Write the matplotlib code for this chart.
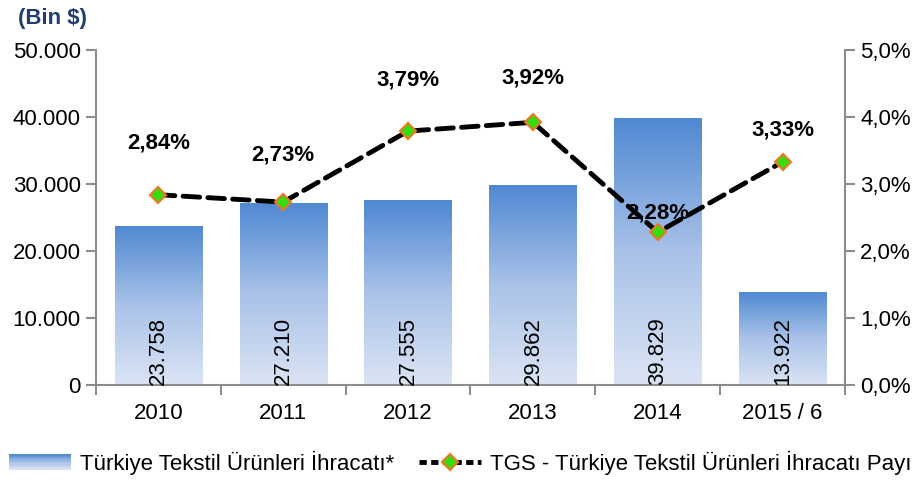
import matplotlib
matplotlib.use("Agg")
import matplotlib.pyplot as plt
import numpy as np
from matplotlib.patches import Rectangle
from matplotlib.legend_handler import HandlerBase
from matplotlib.lines import Line2D
from matplotlib.colors import LinearSegmentedColormap

categories = ["2010", "2011", "2012", "2013", "2014", "2015 / 6"]
exports = [23758, 27210, 27555, 29862, 39829, 13922]
export_labels = ["23.758", "27.210", "27.555", "29.862", "39.829", "13.922"]
share = [2.84, 2.73, 3.79, 3.92, 2.28, 3.33]
share_labels = ["2,84%", "2,73%", "3,79%", "3,92%", "2,28%", "3,33%"]
left_ticks = [0, 10000, 20000, 30000, 40000, 50000]
left_ticklabels = ["0", "10.000", "20.000", "30.000", "40.000", "50.000"]
right_ticks = [0, 1, 2, 3, 4, 5]
right_ticklabels = ["0,0%", "1,0%", "2,0%", "3,0%", "4,0%", "5,0%"]
legend_labels = ["Türkiye Tekstil Ürünleri İhracatı*", "TGS - Türkiye Tekstil Ürünleri İhracatı Payı"]

plt.rcParams['font.family'] = ['Liberation Sans', 'DejaVu Sans']

cmap = LinearSegmentedColormap.from_list("g", ["#dbe4f4", "#a9c2e8", "#4f88d2"])
gray = "#8c8c8c"

fig = plt.figure(figsize=(9.2, 4.82), dpi=100)
ax = fig.add_axes([0.1043, 0.2012, 0.8142, 0.6951])
ax2 = ax.twinx()

x = np.arange(len(categories))
width = 0.70
bars = ax.bar(x, exports, width=width, color="none", edgecolor="none")
grad = np.linspace(0, 1, 256).reshape(-1, 1)
for b in bars:
    x0, w, h = b.get_x(), b.get_width(), b.get_height()
    im = ax.imshow(grad, extent=[x0, x0 + w, 0, h], origin="lower", cmap=cmap,
                   aspect="auto", zorder=1)
    im.set_clip_path(b)

for xi, lab in zip(x, export_labels):
    ax.text(xi, 5050, lab, rotation=90, ha="center", va="center", fontsize=16, color="black", zorder=3)

ax.set_xlim(-0.5, len(categories) - 0.5)
ax.set_ylim(0, 50000)
ax.set_yticks(left_ticks)
ax.set_yticklabels(left_ticklabels, fontsize=16)
ax.set_xticks(x)
ax.set_xticklabels(categories, fontsize=16)
ax.set_xticks(np.arange(len(categories) + 1) - 0.5, minor=True)
ax.tick_params(axis="x", which="major", length=0, pad=13)
ax.tick_params(axis="x", which="minor", length=7, color=gray, width=1.5, direction="out")
ax.tick_params(axis="y", length=7, color=gray, width=1.5, direction="out", pad=4)

ax2.set_ylim(0, 5)
ax2.set_yticks(right_ticks)
ax2.set_yticklabels(right_ticklabels, fontsize=16)
ax2.tick_params(axis="y", length=7, color=gray, width=1.5, direction="out", pad=4)

for a in (ax, ax2):
    a.spines["top"].set_visible(False)
    for s in ("left", "right", "bottom"):
        a.spines[s].set_color(gray)
        a.spines[s].set_linewidth(1.5)
ax.spines["right"].set_visible(False)
ax2.spines["left"].set_visible(False)
ax2.spines["bottom"].set_visible(False)

ax2.plot(x, share, color="black", linewidth=3.5, linestyle=(0, (3.4, 1.7)),
         dash_capstyle="round", marker="D", markersize=8, markerfacecolor="#33dd11",
         markeredgecolor="#ee7722", markeredgewidth=1.5, zorder=4)

offsets = [37, 34, 37, 32, 14, 23]
for xi, yi, lab, off in zip(x, share, share_labels, offsets):
    ax2.annotate(lab, (xi, yi), xytext=(0, off), textcoords="offset points",
                 ha="center", va="center", fontsize=16, fontweight="bold", zorder=5)

fig.text(0.057, 0.962, "(Bin $)", fontsize=16, fontweight="bold", color="#1f3f6e",
         ha="center", va="center")

class GradHandler(HandlerBase):
    def create_artists(self, legend, orig_handle, xdescent, ydescent, width, height, fontsize, trans):
        arts = []
        n = 12
        for i in range(n):
            c = cmap(1 - (i + 0.5) / n)
            r = Rectangle((-xdescent, -ydescent + height * (1 - (i + 1) / n)), width, height / n,
                          facecolor=c, edgecolor="none", transform=trans)
            arts.append(r)
        return arts

bar_handle = Rectangle((0, 0), 1, 1)
line_handle = Line2D([], [], color="black", linewidth=3.5, linestyle=(0, (1.5, 0.9)),
                     marker="D", markersize=8, markerfacecolor="#33dd11",
                     markeredgecolor="#ee7722", markeredgewidth=1.5)
fig.legend([bar_handle, line_handle], legend_labels, loc="center", bbox_to_anchor=(0.5, 0.04),
           ncol=2, frameon=False, fontsize=16, handlelength=2.8, handletextpad=0.4,
           columnspacing=1.1, borderpad=0.1, handler_map={Rectangle: GradHandler()})

fig.savefig("out.png", dpi=100)
